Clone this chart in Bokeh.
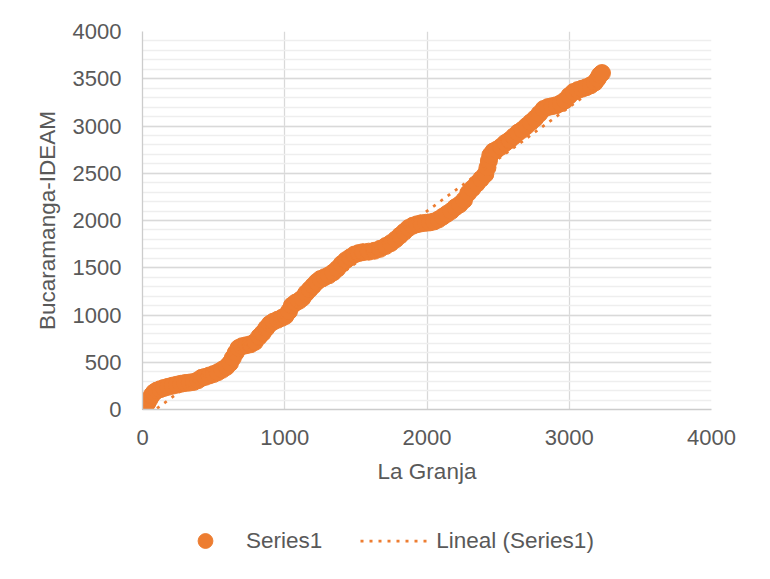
from bokeh.plotting import figure
from bokeh.layouts import column
from bokeh.models import Range1d, FixedTicker, Legend, LegendItem
from bokeh.embed import file_html
from bokeh.resources import INLINE

# ---- data ----
la_granja = [
    0, 10, 20, 35, 50, 65, 80, 100, 125, 150,
    180, 210, 240, 270, 300, 330, 360, 390, 415, 440,
    470, 500, 530, 560, 590, 615, 635, 655, 675, 700,
    730, 760, 790, 820, 845, 870, 895, 920, 950, 980,
    1005, 1030, 1050, 1075, 1100, 1125, 1150, 1175, 1200, 1225,
    1250, 1280, 1310, 1340, 1370, 1400, 1430, 1460, 1490, 1520,
    1550, 1590, 1630, 1670, 1710, 1745, 1780, 1810, 1840, 1870,
    1900, 1930, 1960, 1990, 2020, 2050, 2080, 2110, 2140, 2170,
    2200, 2230, 2260, 2290, 2320, 2350, 2380, 2410, 2425, 2435,
    2445, 2465, 2490, 2520, 2550, 2580, 2610, 2640, 2670, 2700,
    2730, 2760, 2790, 2820, 2850, 2880, 2910, 2940, 2970, 3000,
    3030, 3060, 3090, 3120, 3150, 3180, 3200, 3215, 3230,
]
bucaramanga = [
    0, 15, 40, 70, 110, 150, 180, 200, 215, 228,
    240, 252, 262, 272, 280, 285, 292, 310, 335, 345,
    360, 375, 395, 420, 450, 490, 545, 600, 650, 670,
    680, 690, 715, 770, 810, 860, 905, 930, 950, 970,
    990, 1040, 1100, 1130, 1150, 1180, 1230, 1270, 1310, 1350,
    1380, 1400, 1420, 1450, 1490, 1540, 1580, 1610, 1640, 1655,
    1665, 1670, 1680, 1700, 1730, 1760, 1800, 1840, 1880, 1920,
    1945, 1960, 1970, 1975, 1980, 1990, 2010, 2040, 2070, 2100,
    2140, 2170, 2215, 2290, 2340, 2390, 2440, 2490, 2560, 2630,
    2690, 2730, 2750, 2780, 2820, 2850, 2890, 2930, 2960, 3000,
    3040, 3080, 3130, 3180, 3200, 3210, 3220, 3240, 3270, 3320,
    3360, 3380, 3395, 3410, 3430, 3460, 3500, 3540, 3560,
]
assert len(la_granja) == len(bucaramanga)

# linear trendline: y = slope * x + intercept
trend_slope = 1.1
trend_intercept = -100.0

x_ticks = [0, 1000, 2000, 3000, 4000]
y_ticks = [0, 500, 1000, 1500, 2000, 2500, 3000, 3500, 4000]
y_minor = list(range(0, 4001, 100))

series_label = "Series1"
trend_label = "Lineal (Series1)"
x_title = "La Granja"
y_title = "Bucaramanga-IDEAM"

ORANGE = "#ED7D31"
TEXT = "#595959"
FONT = "Liberation Sans"
MARKER_SIZE = 17
TREND_STYLE = dict(line_color=ORANGE, line_width=2.75, line_dash="3 6")
NAN = float("nan")

p = figure(width=762, height=500, output_backend="svg", toolbar_location=None,
           x_range=Range1d(0, 4000), y_range=Range1d(0, 4000),
           min_border_left=142, min_border_right=51,
           min_border_top=31, min_border_bottom=91)
p.outline_line_color = None
p.background_fill_color = "white"
p.border_fill_color = "white"

# grids
p.xgrid.ticker = FixedTicker(ticks=x_ticks)
p.ygrid.ticker = FixedTicker(ticks=y_ticks, minor_ticks=y_minor)
p.xgrid.grid_line_color = "#d9d9d9"
p.ygrid.grid_line_color = "#d9d9d9"
p.xgrid.grid_line_width = 1.3
p.ygrid.grid_line_width = 1.3
p.ygrid.minor_grid_line_color = "#eeeeee"
p.ygrid.minor_grid_line_width = 1.3

# axes
p.xaxis.ticker = FixedTicker(ticks=x_ticks)
p.yaxis.ticker = FixedTicker(ticks=y_ticks, minor_ticks=y_minor)
for ax in (p.xaxis[0], p.yaxis[0]):
    ax.axis_line_color = "#cccccc"
    ax.axis_line_width = 1.3
    ax.major_tick_line_color = None
    ax.minor_tick_line_color = None
    ax.major_tick_out = 0
    ax.major_tick_in = 0
    ax.minor_tick_out = 0
    ax.major_label_text_font = FONT
    ax.major_label_text_font_size = "22px"
    ax.major_label_text_color = TEXT
    ax.axis_label_text_font = FONT
    ax.axis_label_text_font_size = "22.5px"
    ax.axis_label_text_color = TEXT
    ax.axis_label_text_font_style = "normal"

p.xaxis.axis_label = x_title
p.yaxis.axis_label = y_title
p.xaxis.major_label_standoff = 20
p.xaxis.axis_label_standoff = 11
p.yaxis.major_label_standoff = 21
p.yaxis.axis_label_standoff = 10

# data points
p.scatter(la_granja, bucaramanga, size=MARKER_SIZE, marker="circle",
          fill_color=ORANGE, line_color=ORANGE)

# trendline
x_end = [min(la_granja), max(la_granja)]
y_end = [trend_slope * v + trend_intercept for v in x_end]
p.line(x_end, y_end, **TREND_STYLE)

# ---- legend strip below the chart (frame aligned with chart frame) ----
lg = figure(width=762, height=71, output_backend="svg", toolbar_location=None,
            x_range=Range1d(0, 1), y_range=Range1d(0, 1),
            x_axis_type=None, y_axis_type=None,
            min_border_left=142, min_border_right=51,
            min_border_top=0, min_border_bottom=0)
lg.outline_line_color = None
lg.grid.visible = False
lg.border_fill_color = "white"
lg.background_fill_color = "white"
# legend-only renderers (no visible data)
r_pts = lg.scatter(x=[NAN], y=[NAN], size=MARKER_SIZE, marker="circle",
                   fill_color=ORANGE, line_color=ORANGE)
r_trend = lg.line(x=[NAN, NAN], y=[NAN, NAN], **TREND_STYLE)

legend = Legend(items=[LegendItem(label=series_label, renderers=[r_pts]),
                       LegendItem(label=trend_label, renderers=[r_trend])],
                orientation="horizontal", location=(28, 12))
legend.glyph_width = 70
legend.glyph_height = 37
legend.label_standoff = 6
legend.spacing = 38
legend.padding = 0
legend.margin = 0
legend.border_line_color = None
legend.background_fill_alpha = 0
legend.label_text_font = FONT
legend.label_text_font_size = "22.5px"
legend.label_text_color = TEXT
legend.inactive_fill_alpha = 0
lg.add_layout(legend, "center")

layout = column(p, lg, spacing=0)
open("out.html", "w").write(file_html(layout, INLINE))
